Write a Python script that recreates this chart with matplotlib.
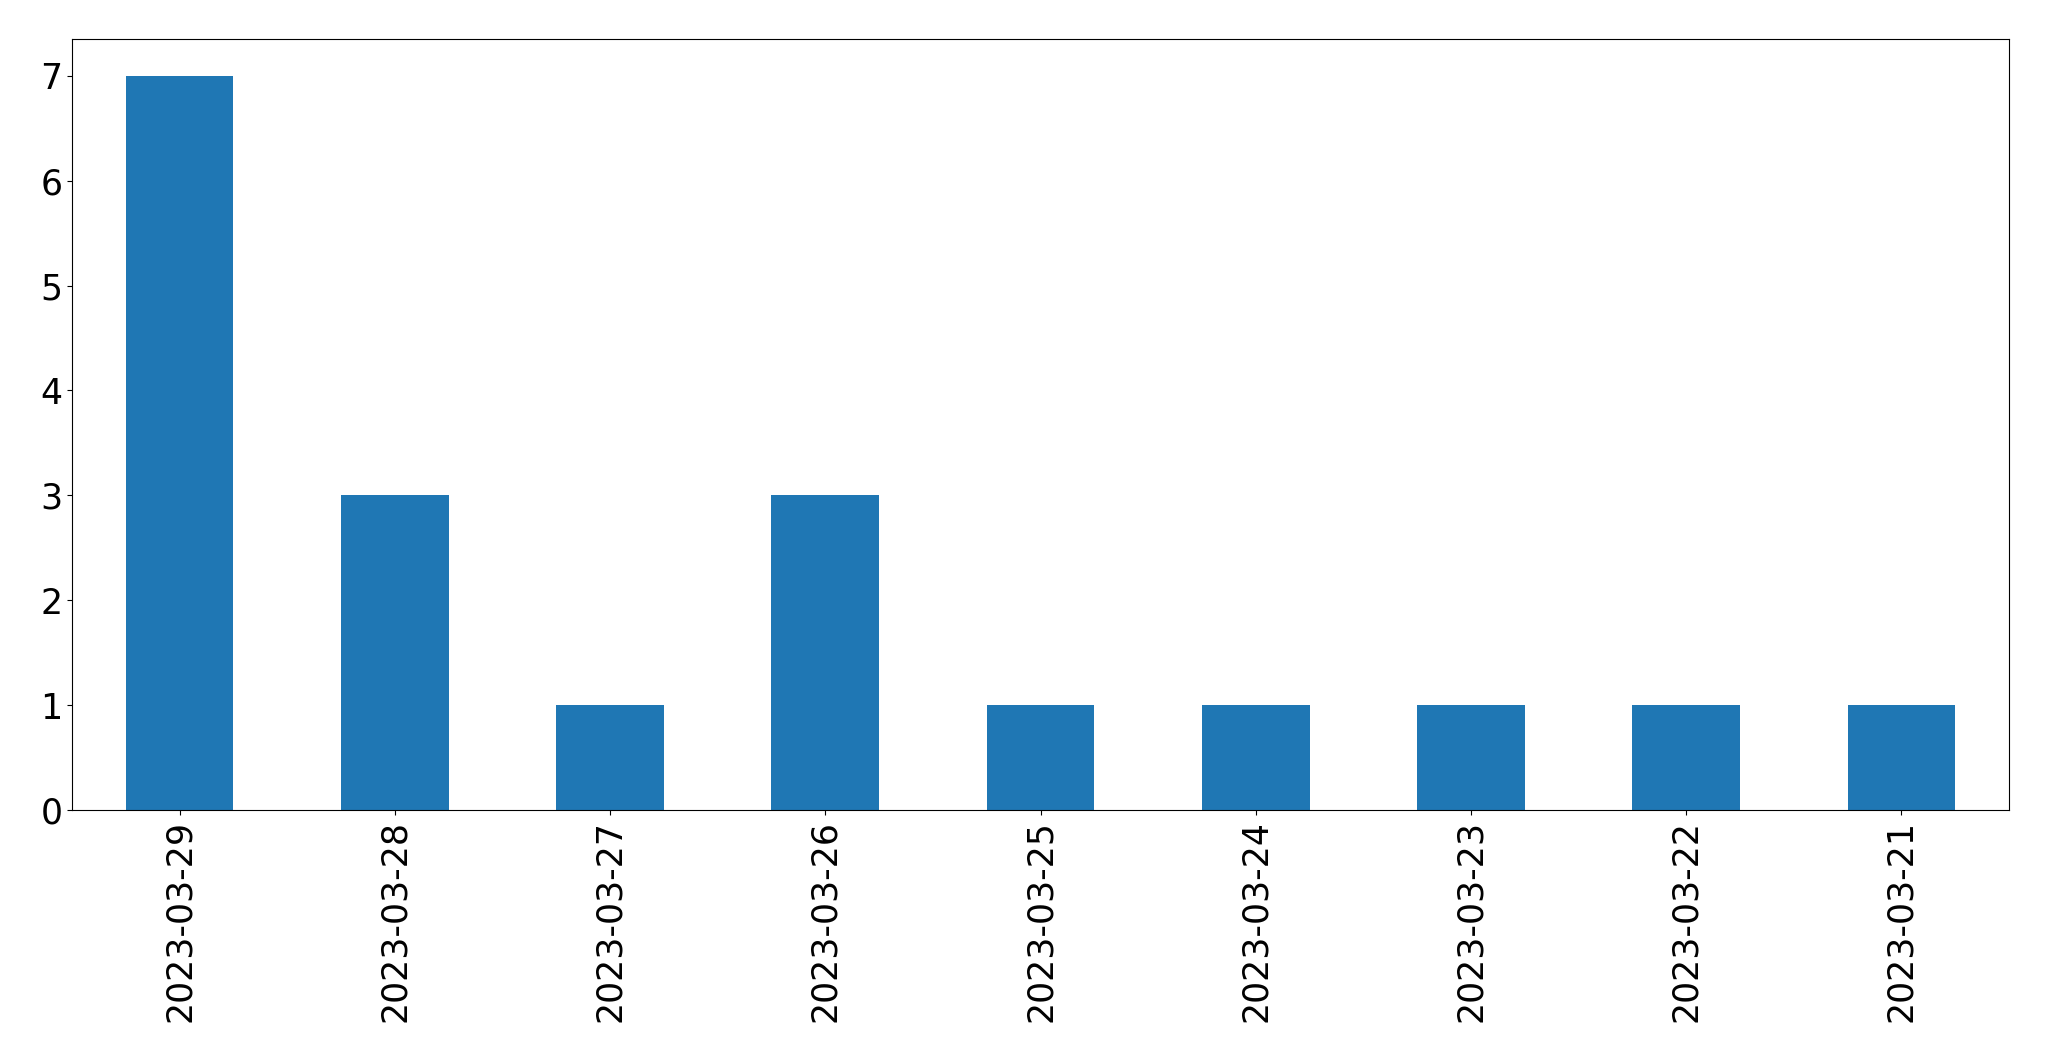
import matplotlib
matplotlib.use("Agg")
import matplotlib.pyplot as plt

dates = ["2023-03-29", "2023-03-28", "2023-03-27", "2023-03-26", "2023-03-25",
         "2023-03-24", "2023-03-23", "2023-03-22", "2023-03-21"]
counts = [7, 3, 1, 3, 1, 1, 1, 1, 1]

fig, ax = plt.subplots(figsize=(20.49, 10.61), dpi=100)
ax.bar(range(len(dates)), counts, width=0.5, color="#1f77b4")
ax.set_xlim(-0.5, len(dates) - 0.5)
ax.set_xticks(range(len(dates)))
ax.set_xticklabels(dates, rotation=90)
ax.tick_params(labelsize=25)
fig.subplots_adjust(left=72 / 2049, right=2009 / 2049, top=1 - 39 / 1061, bottom=1 - 810 / 1061)
fig.savefig("out.png")
